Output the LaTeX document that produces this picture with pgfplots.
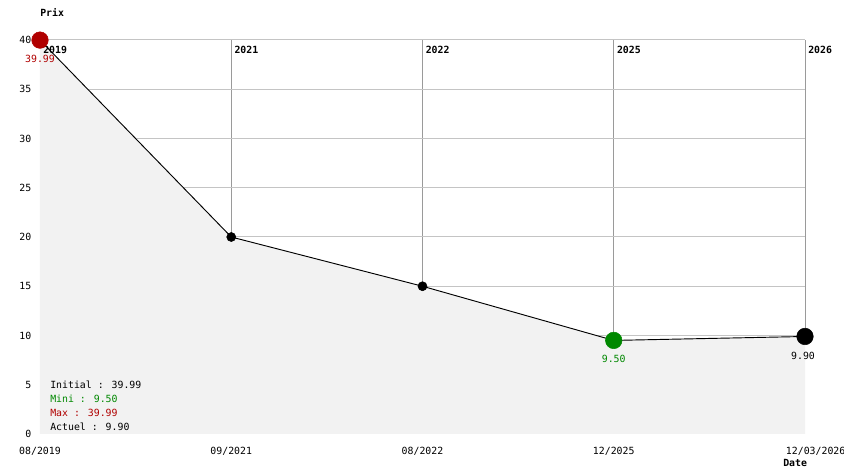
\documentclass[border=0pt]{standalone}
\usepackage{fontspec}
\setmainfont{DejaVu Sans Mono}
\usepackage{pgfplots}
\pgfplotsset{compat=1.18}
\definecolor{fillgray}{HTML}{F2F2F2}
\definecolor{maxred}{HTML}{B00000}
\definecolor{mingreen}{HTML}{008800}
\definecolor{hgrid}{HTML}{C4C4C4}
\definecolor{vgrid}{HTML}{9A9A9A}
\newcommand{\fs}{\fontsize{7.4}{9}\selectfont}
\begin{document}
\begin{tikzpicture}[x=0.75pt,y=0.75pt]
\useasboundingbox (0,0) rectangle (844,474);
\begin{axis}[
  at={(30pt,30pt)}, anchor=south west,
  scale only axis, width=573.75pt, height=295.5pt,
  xmin=0, xmax=4, ymin=0, ymax=40,
  xtick={1,2,3},
  xticklabels={09/2021,08/2022,12/2025},
  extra x ticks={0,4},
  extra x tick labels={08/2019,\hspace*{16pt}12/03/2026},
  extra x tick style={grid=none},
  ytick={0,5,...,40},
  ymajorgrids, xmajorgrids,
  y grid style={hgrid, line width=0.75pt},
  x grid style={vgrid, line width=0.75pt},
  axis x line=bottom, axis y line=left,
  axis line style={draw opacity=0, -},
  every outer y axis line/.append style={draw opacity=0},
  every inner y axis line/.append style={draw opacity=0},
  every outer x axis line/.append style={draw opacity=0},
  every inner x axis line/.append style={draw opacity=0},
  major tick length=0pt,
  tick label style={font=\fs},
  yticklabel style={xshift=-3pt},
  xticklabel style={yshift=-6pt},
  /pgf/number format/assume math mode=true,
  /pgf/number format/fixed,
  clip=false,
]
\addplot[fill=fillgray, draw=none] coordinates {(0,39.99) (1,20) (2,15) (3,9.5) (4,9.9)} \closedcycle;
\draw[vgrid, line width=0.75pt] (axis cs:4,9.9) -- (axis cs:4,40);
\addplot[black, line width=0.7pt] coordinates {(0,39.99) (1,20) (2,15) (3,9.5) (4,9.9)};
\node[anchor=west, inner sep=0pt, font=\fs\bfseries] at (axis cs:0,40) [xshift=2.25pt, yshift=-7.5pt] {2019};
\node[anchor=west, inner sep=0pt, font=\fs\bfseries] at (axis cs:1,40) [xshift=2.25pt, yshift=-7.5pt] {2021};
\node[anchor=west, inner sep=0pt, font=\fs\bfseries] at (axis cs:2,40) [xshift=2.25pt, yshift=-7.5pt] {2022};
\node[anchor=west, inner sep=0pt, font=\fs\bfseries] at (axis cs:3,40) [xshift=2.25pt, yshift=-7.5pt] {2025};
\node[anchor=west, inner sep=0pt, font=\fs\bfseries] at (axis cs:4,40) [xshift=2.25pt, yshift=-7.5pt] {2026};
\addplot[only marks, mark=*, mark size=3.4pt, black] coordinates {(1,20) (2,15)};
\addplot[only marks, mark=*, mark size=6.2pt, maxred, mark options={draw=maxred, fill=maxred}] coordinates {(0,39.99)};
\addplot[only marks, mark=*, mark size=6.2pt, mingreen, mark options={draw=mingreen, fill=mingreen}] coordinates {(3,9.5)};
\addplot[only marks, mark=*, mark size=6.2pt, black] coordinates {(4,9.9)};
\node[inner sep=0pt, font=\fs, text=maxred] at (axis cs:0,39.99) [yshift=-14pt] {39.99};
\node[inner sep=0pt, font=\fs, text=mingreen] at (axis cs:3,9.5) [yshift=-14pt] {9.50};
\node[inner sep=0pt, font=\fs, text=black] at (axis cs:4,9.9) [yshift=-14.5pt, xshift=-1.5pt] {9.90};
\end{axis}
\node[anchor=west, inner sep=0pt, font=\fs] at (50,89) {Initial : 39.99};
\node[anchor=west, inner sep=0pt, font=\fs, text=mingreen] at (50,75) {Mini : 9.50};
\node[anchor=west, inner sep=0pt, font=\fs, text=maxred] at (50,61) {Max : 39.99};
\node[anchor=west, inner sep=0pt, font=\fs] at (50,47) {Actuel : 9.90};
\node[anchor=west, inner sep=0pt, font=\fs\bfseries] at (40,462) {Prix};
\node[anchor=west, inner sep=0pt, font=\fs\bfseries] at (783,11) {Date};
\end{tikzpicture}
\end{document}
